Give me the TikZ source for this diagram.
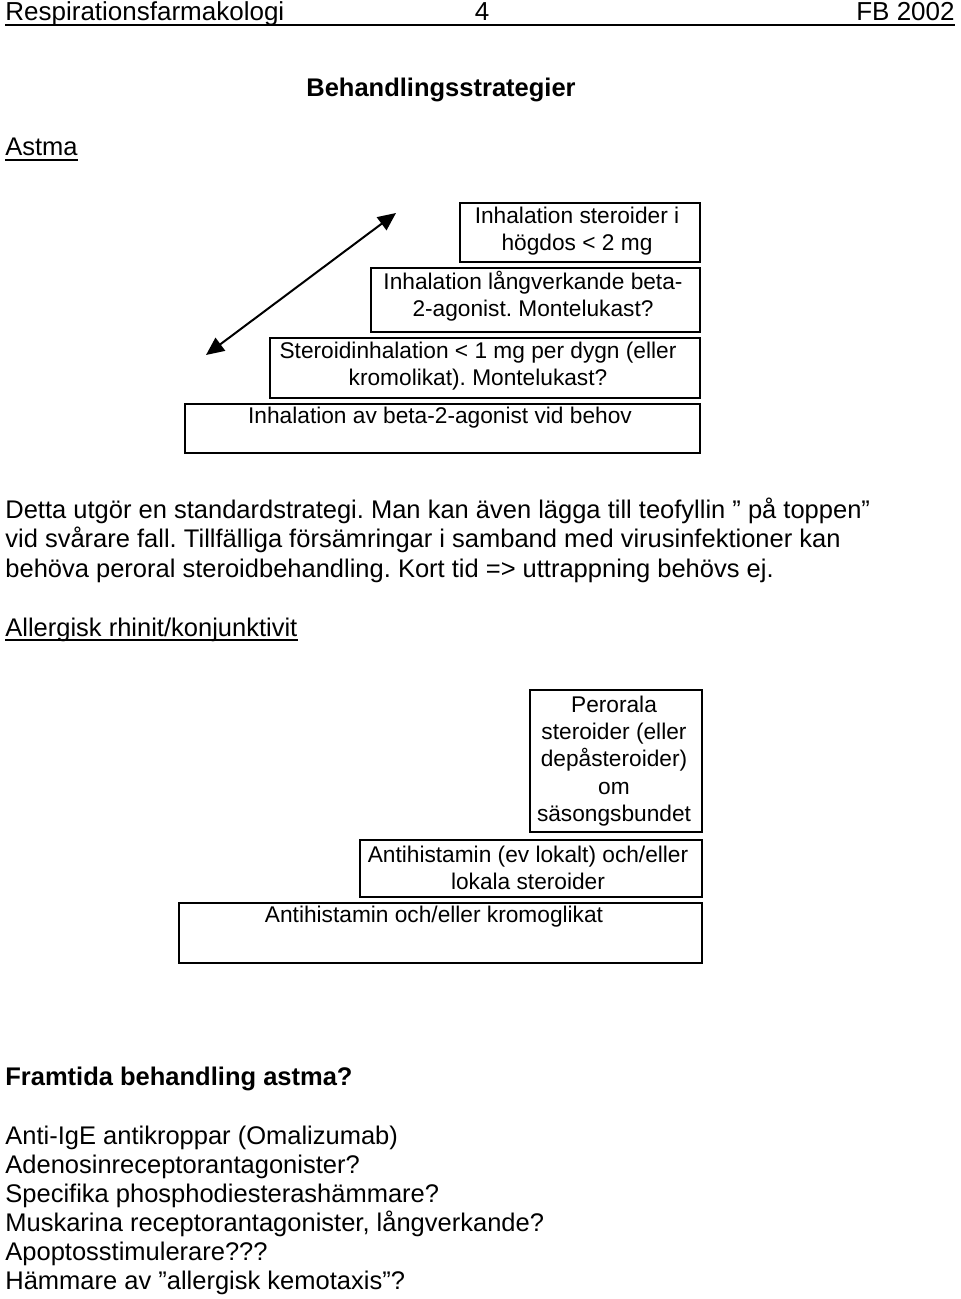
\documentclass[tikz,border=0pt]{standalone}
\usepackage{fontspec}
\setmainfont{Liberation Sans}
\usetikzlibrary{arrows.meta}
\tikzstyle{txt}=[anchor=base west,inner sep=0pt,font=\fontsize{12.75}{14.6}\selectfont]
\tikzstyle{head}=[txt,font=\fontsize{12.75}{14.6}\selectfont\bfseries]
\tikzstyle{boxtxt}=[align=center,inner sep=0pt,font=\fontsize{11.35}{13.6}\selectfont]
\tikzstyle{stair}=[line width=1pt]
\tikzstyle{uline}=[line width=0.7pt]

\begin{document}
\frenchspacing
\begin{tikzpicture}[x=0.5pt,y=-0.5pt]
\useasboundingbox (0,0) rectangle (960,1299);

% page header
\node[txt,font=\fontsize{13}{15}\selectfont] (course) at (5,21) {Respirationsfarmakologi};
\node[txt,anchor=base,font=\fontsize{13}{15}\selectfont] (pagenr) at (482,21) {4};
\node[txt,anchor=base east,font=\fontsize{13}{15}\selectfont] (year) at (955,21) {FB 2002};
\draw[uline] ([yshift=-2pt]course.base west) -- ([yshift=-2pt]year.base east);

\node[head,anchor=base] (title) at (441,97) {Behandlingsstrategier};

\node[txt] (astma) at (5,156) {Astma};
\draw[uline] ([yshift=-2pt]astma.base west) -- ([yshift=-2pt]astma.base east);

% astma stairs
\draw[stair] (460,203) rectangle (700,262);
\node[boxtxt] (step4) at (577,231) {Inhalation steroider i\\högdos < 2 mg};
\draw[stair] (371,268) rectangle (700,332);
\node[boxtxt] (step3) at (533,296) {Inhalation långverkande beta-\\2-agonist. Montelukast?};
\draw[stair] (270,338) rectangle (700,398);
\node[boxtxt] (step2) at (478,366) {Steroidinhalation < 1 mg per dygn (eller\\kromolikat). Montelukast?};
\draw[stair] (185,404) rectangle (700,453);
\node[boxtxt] (step1) at (440,418) {Inhalation av beta-2-agonist vid behov};

\coordinate (low) at (206,355);
\coordinate (high) at (396,213);
\draw[stair,{Triangle[length=9pt,width=8pt]}-{Triangle[length=9pt,width=8pt]}] (low) -- (high);

% text
\node[txt] (par1) at (5,518) {Detta utgör en standardstrategi. Man kan även lägga till teofyllin ” på toppen”};
\node[txt] (par2) at (5,547) {vid svårare fall. Tillfälliga försämringar i samband med virusinfektioner kan};
\node[txt] (par3) at (5,577) {behöva peroral steroidbehandling. Kort tid => uttrappning behövs ej.};

\node[txt] (rhinit) at (5,636) {Allergisk rhinit/konjunktivit};
\draw[uline] ([yshift=-2pt]rhinit.base west) -- ([yshift=-2pt]rhinit.base east);

% rhinit stairs
\draw[stair] (530,690) rectangle (702,832);
\node[boxtxt] (rstep3) at (614,761) {Perorala\\steroider (eller\\depåsteroider)\\om\\säsongsbundet};
\draw[stair] (360,840) rectangle (702,897);
\node[boxtxt] (rstep2) at (528,868) {Antihistamin (ev lokalt) och/eller\\lokala steroider};
\draw[stair] (179,903) rectangle (702,963);
\node[boxtxt] (rstep1) at (434,917) {Antihistamin och/eller kromoglikat};

\node[head] (future) at (5,1085) {Framtida behandling astma?};

\node[txt] (drug1) at (5,1144) {Anti-IgE antikroppar (Omalizumab)};
\node[txt] (drug2) at (5,1173) {Adenosinreceptorantagonister?};
\node[txt] (drug3) at (5,1202) {Specifika phosphodiesterashämmare?};
\node[txt] (drug4) at (5,1231) {Muskarina receptorantagonister, långverkande?};
\node[txt] (drug5) at (5,1260) {Apoptosstimulerare???};
\node[txt] (drug6) at (5,1289) {Hämmare av ”allergisk kemotaxis”?};

\end{tikzpicture}
\end{document}
